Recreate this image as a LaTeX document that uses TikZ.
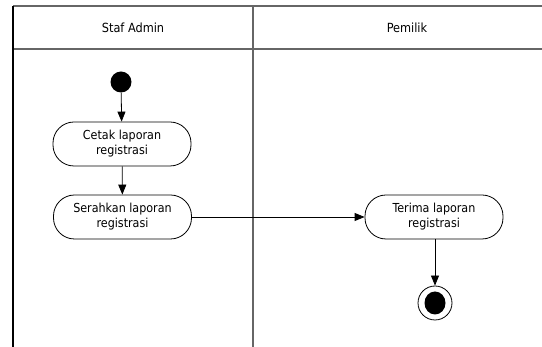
\documentclass[tikz,border=0pt]{standalone}
\usepackage{fontspec}
\setmainfont{DejaVu Sans Condensed}
\usetikzlibrary{arrows.meta}
\begin{document}
\begin{tikzpicture}[x=1pt,y=-1pt,
  lane/.style={draw=black!60,line width=1.3pt},
  action/.style={draw=black,line width=0.8pt,rounded corners=21pt,
    minimum width=138pt,minimum height=44pt,align=center,inner sep=0pt,
    font=\fontsize{12.4}{15}\selectfont},
  title/.style={font=\fontsize{12.6}{15}\selectfont},
  flow/.style={draw=black,line width=0.8pt,-{Triangle[length=10pt,width=8pt]}}]
  \useasboundingbox (0,0) rectangle (542,347);
  % swimlane frame
  \draw[lane] (542,6) -- (13,6);
  \draw[lane] (13,49) -- (542,49);
  \draw[lane] (253,6) -- (253,347);
  \draw[draw=black,line width=1.1pt] (13,6) -- (13,347);
  \node[title] (laneA) at (133,28) {Staf Admin};
  \node[title] (laneB) at (407,28) {Pemilik};
  % activity nodes
  \node[circle,fill=black,minimum size=21pt,inner sep=0pt] (start) at (121,82) {};
  \node[action] (cetak) at (122,144) {Cetak laporan\\registrasi};
  \node[action] (serah) at (122.5,217) {Serahkan laporan\\registrasi};
  \node[action] (terima) at (434,217) {Terima laporan\\registrasi};
  \node[circle,draw=black,line width=0.8pt,minimum size=34pt,inner sep=0pt] (end) at (435,303) {};
  \fill[black] (end.center) circle[x radius=10.5pt,y radius=11.5pt];
  % transitions
  \draw[flow] (start) -- (cetak);
  \draw[flow] (cetak) -- (serah);
  \draw[flow] (serah) -- (terima);
  \draw[flow] (terima.south -| end) -- (end);
\end{tikzpicture}
\end{document}
